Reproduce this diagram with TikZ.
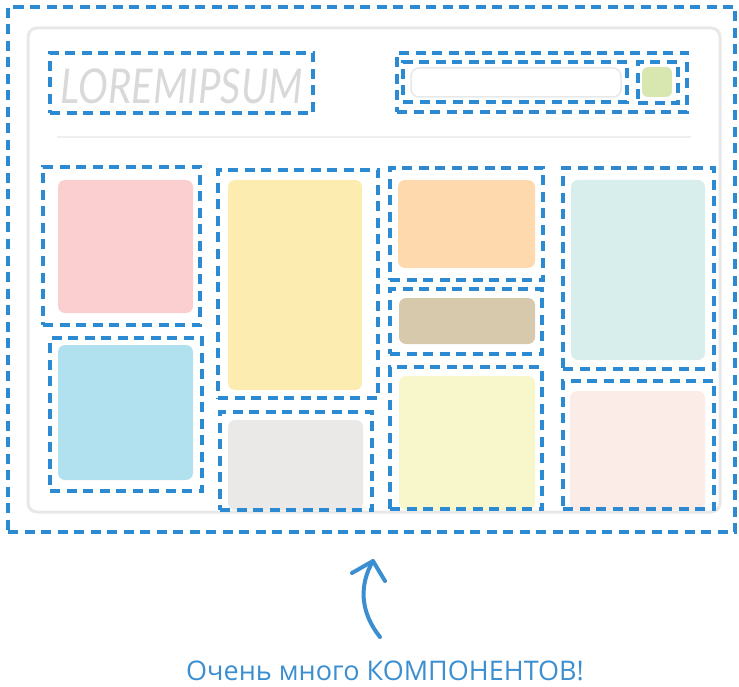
\documentclass[tikz,border=0pt]{standalone}
\usepackage{fontspec}
\setmainfont{Open Sans}
\newfontfamily\logofont{Lato}
\usetikzlibrary{fit}
\definecolor{dblue}{HTML}{2C8AD3}
\definecolor{cblue}{HTML}{3B8FD0}
\definecolor{framegray}{HTML}{E8E8E8}
\definecolor{logogray}{HTML}{D9D9D9}
\definecolor{fpink}{HTML}{FBCFCF}
\definecolor{fblue}{HTML}{B1E0EE}
\definecolor{fyellow}{HTML}{FDECB0}
\definecolor{fgray}{HTML}{EAE9E8}
\definecolor{forange}{HTML}{FDD9AD}
\definecolor{ftan}{HTML}{D7C9AB}
\definecolor{flyellow}{HTML}{F8F7CB}
\definecolor{fteal}{HTML}{D8EEEC}
\definecolor{flpink}{HTML}{FCECE8}
\definecolor{fgreen}{HTML}{D8E6B0}
\tikzset{
  dbox/.style={draw=dblue, line width=3.2pt, dash pattern=on 10pt off 6.5pt, inner sep=0pt, rectangle},
  card/.style={rounded corners=7pt, inner sep=0pt, rectangle},
  arrowline/.style={draw=cblue, line width=4pt, line cap=round, line join=round}
}
\begin{document}
\begin{tikzpicture}[x=1pt,y=-1pt]
\useasboundingbox (0,0) rectangle (739,687);
% browser frame
\draw[framegray, line width=3pt, rounded corners=9pt] (28,28) rectangle (720,512);
\draw[framegray!70, line width=2pt] (57,137) -- (691,137);
% header
\node[anchor=center, logogray, font=\logofont\itshape\fontsize{40}{40}\selectfont, yscale=1.2] (logo) at (182,86) {LOREMIPSUM};
\fill[white] (411,68) rectangle (621,97);
\draw[framegray, line width=1.5pt, rounded corners=8pt] (411,68) rectangle (621,97);
\fill[fgreen, rounded corners=6pt] (642,67) rectangle (672,97);
% cards
\fill[fpink, card] (58,180) rectangle (193,313);
\fill[fblue, card] (58,345) rectangle (193,480);
\fill[fyellow, card] (228,180) rectangle (362,390);
\fill[fgray, rounded corners=7pt] (228,420) -- (363,420) -- (363,510) -- (228,510) -- cycle;
\fill[forange, card] (398,180) rectangle (535,268);
\fill[ftan, card] (399,298) rectangle (535,344);
\fill[flyellow, rounded corners=7pt] (399,376) -- (535,376) -- (535,510) -- (399,510) -- cycle;
\fill[fteal, card] (571,180) rectangle (705,360);
\fill[flpink, rounded corners=7pt] (570,391) -- (705,391) -- (705,510) -- (570,510) -- cycle;
% dashed component boxes
\node[dbox, fit={(8,7) (735,532)}] (outer) {};
\node[dbox, fit={(50,53) (313,113)}] (logobox) {};
\node[dbox, fit={(397,53) (687,112)}] (search) {};
\node[dbox, fit={(403,62) (627,102)}] (input) {};
\node[dbox, fit={(638,62) (678,103)}] (button) {};
\node[dbox, fit={(43,167) (200,325)}] (b1) {};
\node[dbox, fit={(50,338) (202,491)}] (b2) {};
\node[dbox, fit={(218,170) (378,398)}] (b3) {};
\node[dbox, fit={(220,412) (372,510)}] (b4) {};
\node[dbox, fit={(390,168) (543,280)}] (b5) {};
\node[dbox, fit={(390,289) (542,354)}] (b6) {};
\node[dbox, fit={(390,367) (542,509)}] (b7) {};
\node[dbox, fit={(563,168) (714,369)}] (b8) {};
\node[dbox, fit={(563,381) (714,509)}] (b9) {};
% arrow and caption
\coordinate (tail) at (380,637);
\coordinate (tip) at (373,561);
\draw[arrowline] (tail) .. controls (360,612) and (359,585) .. (tip);
\draw[arrowline] (352,573) -- (tip) -- (385,581);
\node[cblue, font=\fontsize{27}{27}\selectfont, anchor=base, inner sep=0pt] (caption) at (385,680) {Очень много КОМПОНЕНТОВ!};
\end{tikzpicture}
\end{document}
